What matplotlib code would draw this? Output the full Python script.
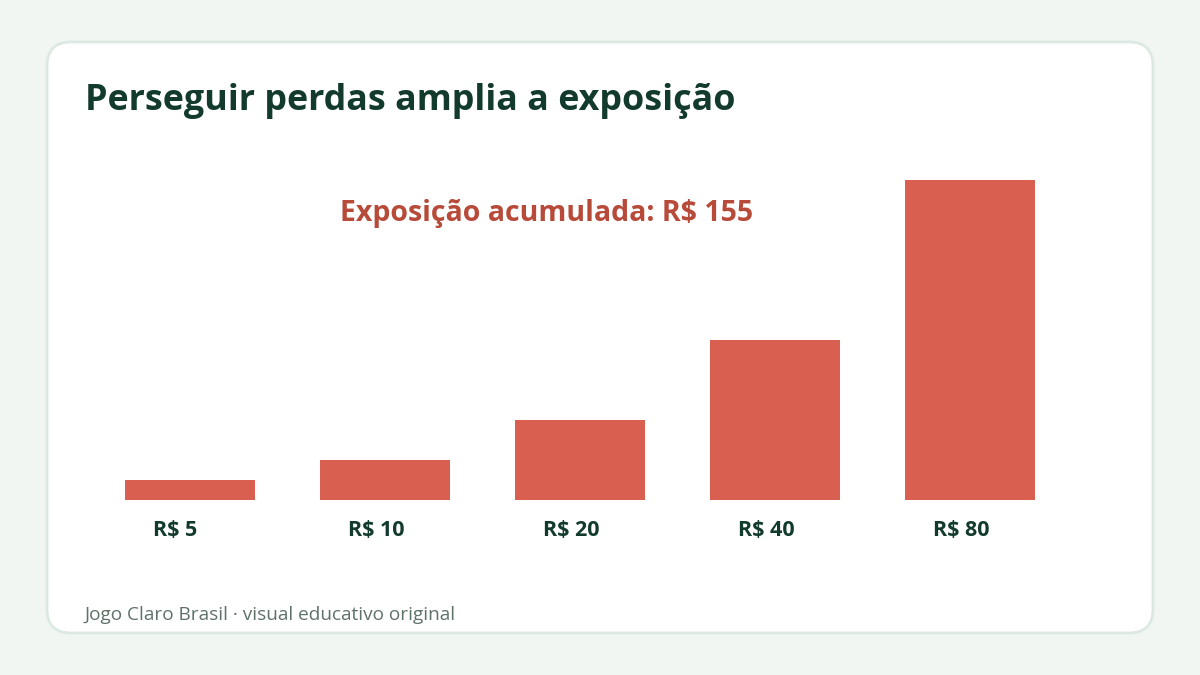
import matplotlib.pyplot as plt
from matplotlib.patches import FancyBboxPatch

plt.rcParams['font.family'] = ['Open Sans', 'DejaVu Sans']

# dados
rotulos = ['R$ 5', 'R$ 10', 'R$ 20', 'R$ 40', 'R$ 80']
apostas = [5, 10, 20, 40, 80]
total = sum(apostas)

fig = plt.figure(figsize=(12, 6.75), dpi=100)
fig.patch.set_facecolor('#f1f6f2')

# cartao branco com borda arredondada
card = FancyBboxPatch((47 / 1200, 1 - 633 / 675), 1106 / 1200, 591 / 675,
                      boxstyle='round,pad=0,rounding_size=0.02',
                      transform=fig.transFigure, facecolor='white',
                      edgecolor='#dce9e2', linewidth=2, mutation_aspect=1200 / 675,
                      zorder=-5)
fig.patches.append(card)

ax = fig.add_axes([92.5 / 1200, 175 / 675, 975 / 1200, 320 / 675])
ax.set_facecolor('none')
ax.set_zorder(2)
largura = 130 / 195
x = list(range(len(apostas)))
ax.bar(x, apostas, width=largura, color='#d95f50')
ax.set_xlim(-0.5, 4.5)
ax.set_ylim(0, 80)
ax.set_xticks([])
ax.set_yticks([])
for s in ax.spines.values():
    s.set_visible(False)

# rotulos abaixo das barras (alinhados a esquerda, como no original)
for xi, r in zip(x, rotulos):
    ax.text(xi - largura / 2 + 28 / 195, -30 / 4, r, fontsize=15.5, fontweight='bold',
            color='#123b2e', ha='left', va='center', clip_on=False)

fig.text(85 / 1200, 1 - 101 / 675, 'Perseguir perdas amplia a exposição',
         fontsize=25.8, fontweight='bold', color='#123b2e', va='center', ha='left')
fig.text(547 / 1200, 1 - 213 / 675, f'Exposição acumulada: R$ {total}',
         fontsize=20.5, fontweight='bold', color='#b84a39', va='center', ha='center')
fig.text(85 / 1200, 1 - 615 / 675, 'Jogo Claro Brasil · visual educativo original',
         fontsize=13.7, color='#5f7268', va='center', ha='left')

fig.savefig('out.png', dpi=100, facecolor=fig.get_facecolor())
